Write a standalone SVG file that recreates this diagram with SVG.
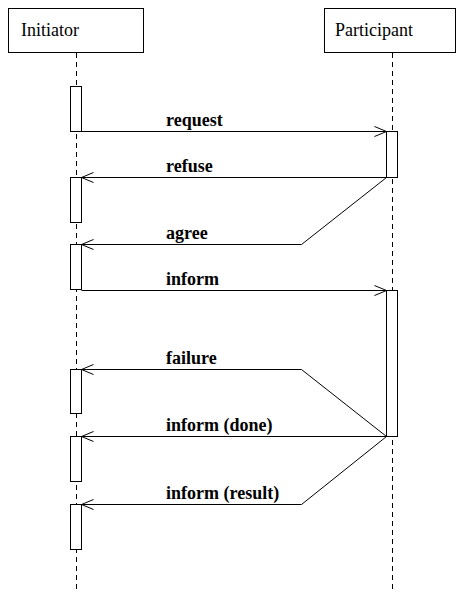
<svg xmlns="http://www.w3.org/2000/svg" width="457" height="594" viewBox="0 0 457 594">
<defs>
<style>
.box{fill:#fff;stroke:#000;stroke-width:1}
.life{stroke:#000;stroke-width:1;stroke-dasharray:5,4;fill:none}
.act{fill:#fff;stroke:#000;stroke-width:1}
.msg{fill:none;stroke:#000;stroke-width:1}
.name{font-family:"Liberation Serif",serif;font-size:18px;fill:#000}
.lbl{font-family:"Liberation Serif",serif;font-size:18px;font-weight:bold;fill:#000}
</style>
<marker id="open" markerWidth="14" markerHeight="12" refX="13" refY="6" orient="auto" markerUnits="userSpaceOnUse">
<path d="M1,1 L13,6 L1,11" fill="none" stroke="#000" stroke-width="1"/>
</marker>
</defs>
<rect width="457" height="594" fill="#fff"/>
<g id="initiator">
<rect class="box" x="8.5" y="8.5" width="135" height="44"/>
<text class="name" x="21" y="36">Initiator</text>
<line class="life" x1="76.5" y1="53" x2="76.5" y2="592"/>
</g>
<g id="participant">
<rect class="box" x="324.5" y="8.5" width="131" height="44"/>
<text class="name" x="335" y="36">Participant</text>
<line class="life" x1="392.5" y1="53" x2="392.5" y2="592"/>
</g>
<g id="activations">
<rect class="act" x="70.5" y="86.5" width="11" height="45"/>
<rect class="act" x="386.5" y="131.5" width="11" height="46"/>
<rect class="act" x="70.5" y="177.5" width="11" height="45"/>
<rect class="act" x="70.5" y="244.5" width="11" height="45"/>
<rect class="act" x="386.5" y="290.5" width="11" height="146"/>
<rect class="act" x="70.5" y="369.5" width="11" height="44"/>
<rect class="act" x="70.5" y="436.5" width="11" height="45"/>
<rect class="act" x="70.5" y="504.5" width="11" height="45"/>
</g>
<g id="connectors">
<polyline class="msg" points="81.5,131.5 386.5,131.5" marker-end="url(#open)"/>
<polyline class="msg" points="386.5,177.5 81.5,177.5" marker-end="url(#open)"/>
<polyline class="msg" points="386.5,177.5 301.5,244.5 81.5,244.5" marker-end="url(#open)"/>
<polyline class="msg" points="81.5,290.5 386.5,290.5" marker-end="url(#open)"/>
<polyline class="msg" points="386.5,436.5 301.5,369.5 81.5,369.5" marker-end="url(#open)"/>
<polyline class="msg" points="386.5,436.5 81.5,436.5" marker-end="url(#open)"/>
<polyline class="msg" points="386.5,436.5 301.5,504.5 81.5,504.5" marker-end="url(#open)"/>
</g>
<g id="labels">
<text class="lbl" x="166" y="126">request</text>
<text class="lbl" x="166" y="172">refuse</text>
<text class="lbl" x="166" y="239">agree</text>
<text class="lbl" x="166" y="285">inform</text>
<text class="lbl" x="166" y="364">failure</text>
<text class="lbl" x="166" y="431">inform (done)</text>
<text class="lbl" x="166" y="499">inform (result)</text>
</g>
</svg>
